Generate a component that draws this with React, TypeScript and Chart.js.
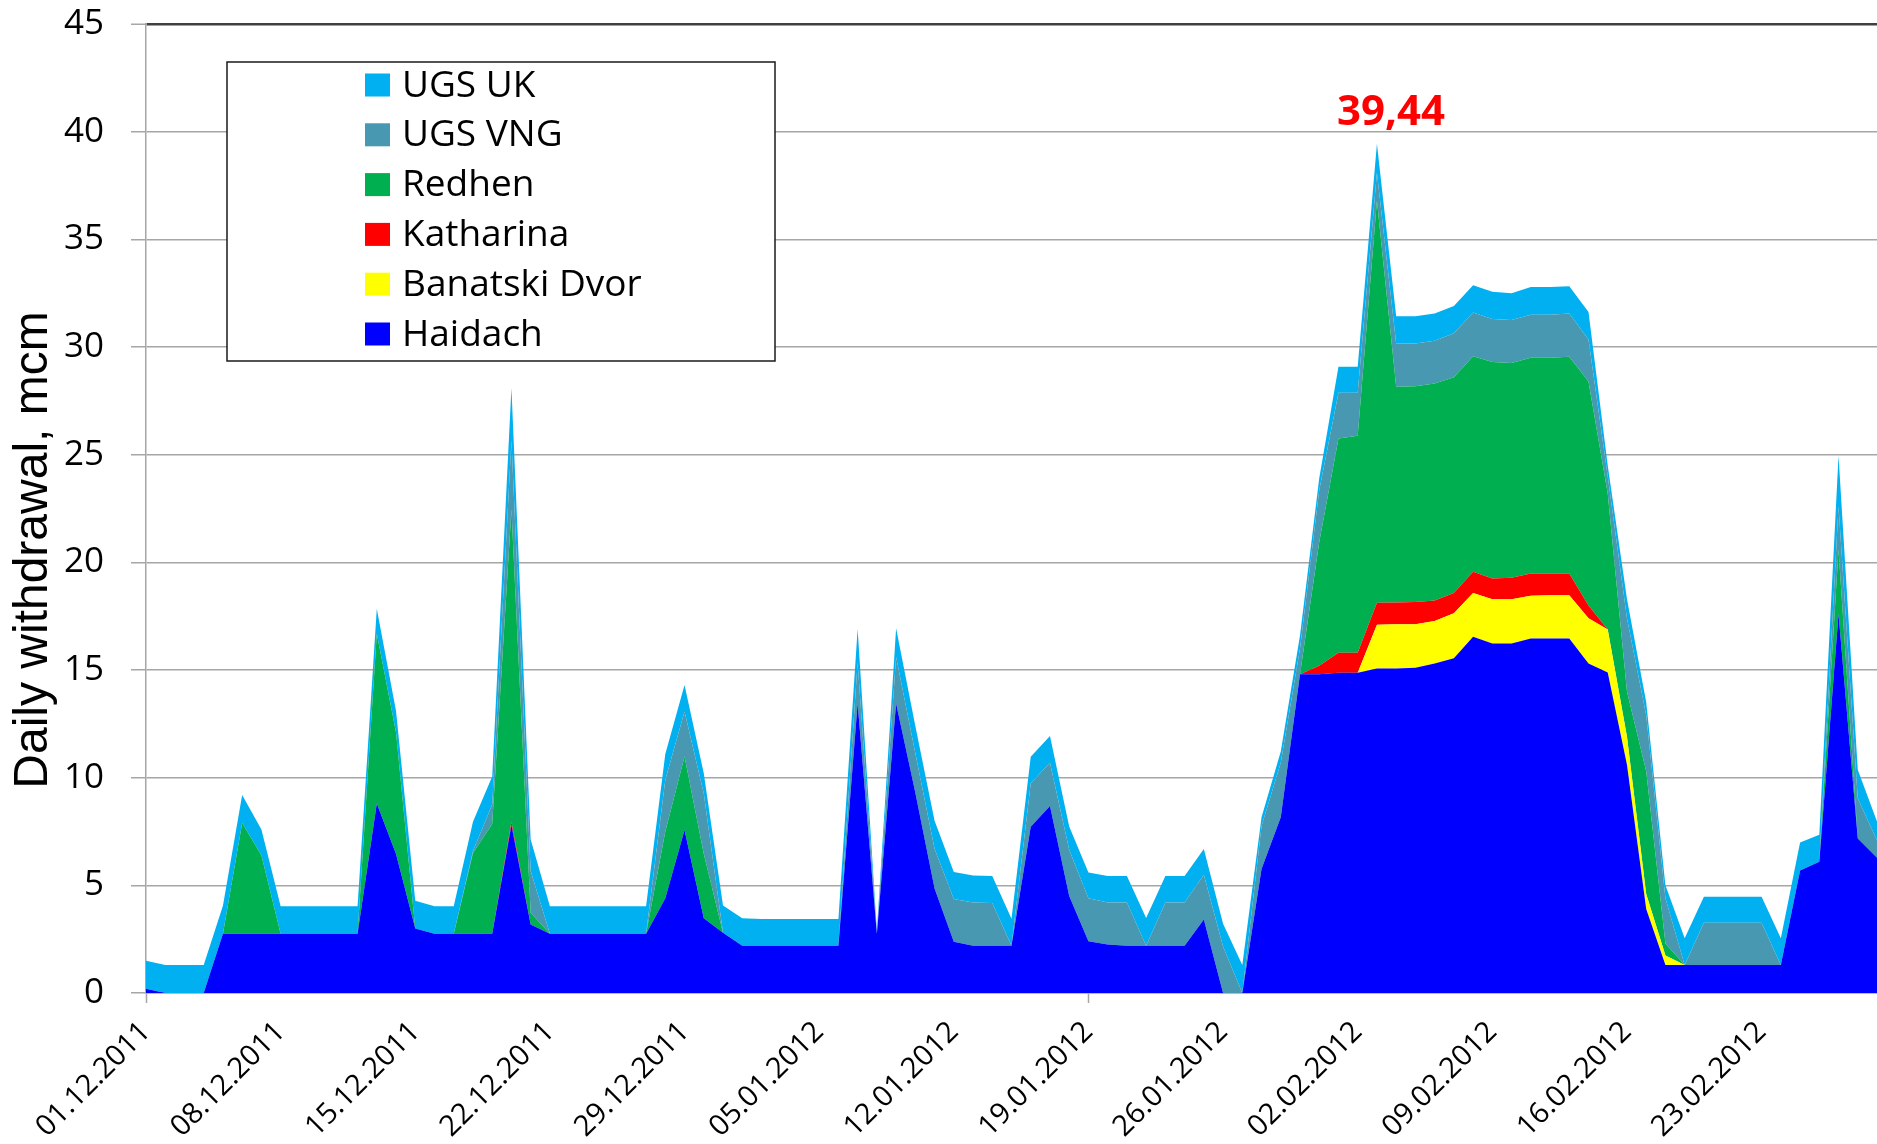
import React, { useEffect, useRef } from 'react';
import { Chart, registerables } from 'chart.js';

Chart.register(...registerables);

const DATES = [
  '01.12.2011','02.12.2011','03.12.2011','04.12.2011','05.12.2011','06.12.2011','07.12.2011','08.12.2011','09.12.2011','10.12.2011',
  '11.12.2011','12.12.2011','13.12.2011','14.12.2011','15.12.2011','16.12.2011','17.12.2011','18.12.2011','19.12.2011','20.12.2011',
  '21.12.2011','22.12.2011','23.12.2011','24.12.2011','25.12.2011','26.12.2011','27.12.2011','28.12.2011','29.12.2011','30.12.2011',
  '31.12.2011','01.01.2012','02.01.2012','03.01.2012','04.01.2012','05.01.2012','06.01.2012','07.01.2012','08.01.2012','09.01.2012',
  '10.01.2012','11.01.2012','12.01.2012','13.01.2012','14.01.2012','15.01.2012','16.01.2012','17.01.2012','18.01.2012','19.01.2012',
  '20.01.2012','21.01.2012','22.01.2012','23.01.2012','24.01.2012','25.01.2012','26.01.2012','27.01.2012','28.01.2012','29.01.2012',
  '30.01.2012','31.01.2012','01.02.2012','02.02.2012','03.02.2012','04.02.2012','05.02.2012','06.02.2012','07.02.2012','08.02.2012',
  '09.02.2012','10.02.2012','11.02.2012','12.02.2012','13.02.2012','14.02.2012','15.02.2012','16.02.2012','17.02.2012','18.02.2012',
  '19.02.2012','20.02.2012','21.02.2012','22.02.2012','23.02.2012','24.02.2012','25.02.2012','26.02.2012','27.02.2012','28.02.2012',
  '29.02.2012',
];

const TICK_LABELS = [
  '01.12.2011','08.12.2011','15.12.2011','22.12.2011','29.12.2011','05.01.2012','12.01.2012',
  '19.01.2012','26.01.2012','02.02.2012','09.02.2012','16.02.2012','23.02.2012',
];

const Y_TICKS = [0, 5, 10, 15, 20, 25, 30, 35, 40, 45];

const HAIDACH = [
  0.2, 0, 0, 0, 2.75, 2.75, 2.75, 2.75, 2.75, 2.75,
  2.75, 2.75, 8.8, 6.45, 3.0, 2.75, 2.75, 2.75, 2.75, 7.8,
  3.18, 2.75, 2.75, 2.75, 2.75, 2.75, 2.75, 4.4, 7.57, 3.47,
  2.8, 2.2, 2.2, 2.2, 2.2, 2.2, 2.2, 13.45, 2.75, 13.45,
  9.3, 4.85, 2.38, 2.2, 2.2, 2.2, 7.72, 8.69, 4.5, 2.4,
  2.25, 2.2, 2.2, 2.2, 2.2, 3.41, 0, 0, 5.76, 8.16,
  14.8, 14.8, 14.87, 14.87, 15.07, 15.07, 15.1, 15.3, 15.54, 16.54,
  16.23, 16.23, 16.46, 16.46, 16.46, 15.3, 14.88, 10.6, 3.9, 1.3,
  1.3, 1.3, 1.3, 1.3, 1.3, 1.3, 5.69, 6.1, 17.6, 7.17,
  6.28,
];

const BANATSKI_DVOR = [
  0, 0, 0, 0, 0, 0, 0, 0, 0, 0,
  0, 0, 0, 0, 0, 0, 0, 0, 0, 0,
  0, 0, 0, 0, 0, 0, 0, 0, 0, 0,
  0, 0, 0, 0, 0, 0, 0, 0, 0, 0,
  0, 0, 0, 0, 0, 0, 0, 0, 0, 0,
  0, 0, 0, 0, 0, 0, 0, 0, 0, 0,
  0, 0, 0, 0, 2.03, 2.05, 2.02, 1.98, 2.09, 2.04,
  2.06, 2.05, 1.99, 2.01, 2.01, 2.1, 2.0, 1.3, 0.7, 0.44,
  0, 0, 0, 0, 0, 0, 0, 0, 0, 0,
  0,
];

const KATHARINA = [
  0, 0, 0, 0, 0, 0, 0, 0, 0, 0,
  0, 0, 0, 0, 0, 0, 0, 0, 0, 0.15,
  0, 0, 0, 0, 0, 0, 0, 0, 0, 0,
  0, 0, 0, 0, 0, 0, 0, 0, 0, 0,
  0, 0, 0, 0, 0, 0, 0, 0, 0, 0,
  0, 0, 0, 0, 0, 0, 0, 0, 0, 0,
  0, 0.4, 0.93, 0.93, 1.02, 1.01, 1.04, 0.95, 0.95, 0.98,
  0.96, 1.0, 1.03, 1.01, 1.01, 0.6, 0, 0, 0, 0,
  0, 0, 0, 0, 0, 0, 0, 0, 0, 0,
  0,
];

const REDHEN = [
  0, 0, 0, 0, 0, 5.15, 3.65, 0, 0, 0,
  0, 0, 7.9, 5.65, 0, 0, 0, 3.75, 5.1, 14.5,
  0.55, 0, 0, 0, 0, 0, 0, 3.1, 3.41, 3.0,
  0, 0, 0, 0, 0, 0, 0, 0, 0, 0,
  0, 0, 0, 0, 0, 0, 0, 0, 0, 0,
  0, 0, 0, 0, 0, 0, 0, 0, 0, 0,
  0, 5.75, 9.95, 10.08, 18.68, 10.02, 10.02, 10.07, 10.02, 10.01,
  10.05, 9.98, 10.02, 10.02, 10.07, 10.4, 6.32, 2.1, 5.7, 0.56,
  0, 0, 0, 0, 0, 0, 0, 0, 3.0, 0,
  0,
];

const UGS_VNG = [
  0, 0, 0, 0, 0, 0, 0, 0, 0, 0,
  0, 0, 0, 0, 0, 0, 0, 0.1, 0.9, 3.2,
  1.93, 0, 0, 0, 0, 0, 0, 2.4, 2.09, 2.8,
  0, 0, 0, 0, 0, 0, 0, 1.9, 0, 2.15,
  1.83, 1.85, 1.98, 2.0, 1.98, 0, 2.02, 2.0, 2.15, 2.0,
  1.95, 2.0, 0, 2.0, 2.0, 2.08, 2.16, 0, 2.0, 2.53,
  1.2, 2.4, 2.13, 2.0, 1.3, 2.01, 1.98, 1.99, 2.04, 2.03,
  2.0, 1.99, 2.0, 2.0, 2.0, 1.95, 0.8, 3.4, 2.6, 2.1,
  0, 1.96, 1.96, 1.96, 1.96, 0, 0, 0, 2.0, 1.87,
  0.8,
];

const UGS_UK = [
  1.3, 1.3, 1.3, 1.3, 1.3, 1.29, 1.19, 1.28, 1.28, 1.28,
  1.28, 1.28, 1.15, 1.0, 1.28, 1.28, 1.28, 1.35, 1.3, 2.45,
  1.47, 1.28, 1.28, 1.28, 1.28, 1.28, 1.28, 1.2, 1.23, 0.93,
  1.26, 1.27, 1.24, 1.24, 1.24, 1.24, 1.24, 1.55, 0.15, 1.34,
  1.27, 1.3, 1.26, 1.26, 1.25, 1.25, 1.23, 1.25, 1.08, 1.2,
  1.23, 1.23, 1.28, 1.23, 1.23, 1.2, 1.06, 1.3, 0.4, 0.53,
  0.6, 0.55, 1.2, 1.2, 1.34, 1.27, 1.27, 1.26, 1.26, 1.27,
  1.26, 1.25, 1.29, 1.29, 1.27, 1.28, 0.5, 0.9, 0.6, 0.6,
  1.24, 1.21, 1.21, 1.21, 1.21, 1.24, 1.3, 1.25, 2.35, 1.33,
  0.89,
];

// bottom to top stacking order
const SERIES_NAMES = ['Haidach', 'Banatski Dvor', 'Katharina', 'Redhen', 'UGS VNG', 'UGS UK'];
const SERIES_VALUES = [HAIDACH, BANATSKI_DVOR, KATHARINA, REDHEN, UGS_VNG, UGS_UK];
const SERIES_COLORS = ['#0000FF', '#FFFF00', '#FF0000', '#00B050', '#4798B0', '#00B0F0'];

const Y_TITLE = 'Daily withdrawal, mcm';

const GRID = '#A6A6A6';
const X_TICK_FONT = { family: '"Open Sans", "Liberation Sans", sans-serif', size: 29 };
const Y_TICK_FONT = { family: '"Open Sans", "Liberation Sans", sans-serif', size: 35 };

const overlayPlugin = {
  id: 'overlay',
  afterDraw(chart: any) {
    const { ctx } = chart;
    const xs = chart.scales.x;
    const ys = chart.scales.y;

    // Y axis title
    ctx.save();
    ctx.translate(47, 550);
    ctx.rotate(-Math.PI / 2);
    ctx.font = '48px "Liberation Sans", Arial, sans-serif';
    ctx.fillStyle = '#000';
    ctx.textAlign = 'center';
    ctx.textBaseline = 'alphabetic';
    ctx.fillText(Y_TITLE, 0, 0);
    ctx.restore();

    // Peak label
    const totals = DATES.map((_, i) => SERIES_VALUES.reduce((s, arr) => s + arr[i], 0));
    let peak = 0;
    totals.forEach((t, i) => { if (t > totals[peak]) peak = i; });
    const px = xs.getPixelForValue(peak);
    const py = ys.getPixelForValue(totals[peak]);
    ctx.save();
    ctx.font = 'bold 42px "Open Sans", "Liberation Sans", sans-serif';
    ctx.fillStyle = '#FF0000';
    ctx.textAlign = 'center';
    ctx.textBaseline = 'middle';
    ctx.fillText(totals[peak].toFixed(2).replace('.', ','), px + 14, py - 31);
    ctx.restore();

    // Legend box
    ctx.save();
    const bx = 227, by = 62, bw = 548, bh = 299;
    ctx.fillStyle = '#FFFFFF';
    ctx.fillRect(bx, by, bw, bh);
    ctx.strokeStyle = '#1A1A1A';
    ctx.lineWidth = 1.5;
    ctx.strokeRect(bx, by, bw, bh);
    ctx.font = '37px "Open Sans", "Liberation Sans", sans-serif';
    ctx.textAlign = 'left';
    ctx.textBaseline = 'middle';
    const order = [5, 4, 3, 2, 1, 0];
    order.forEach((si, row) => {
      const cy = 85 + row * 49.8;
      ctx.fillStyle = SERIES_COLORS[si];
      ctx.fillRect(365, cy - 11.5, 25, 23);
      ctx.fillStyle = '#000';
      ctx.fillText(SERIES_NAMES[si], 402, cy + 1);
    });
    ctx.restore();
  },
};

export default function App() {
  const ref = useRef<HTMLCanvasElement | null>(null);

  useEffect(() => {
    if (!ref.current) return;
    const datasets = SERIES_VALUES.map((vals, i) => ({
      label: SERIES_NAMES[i],
      data: vals,
      backgroundColor: SERIES_COLORS[i],
      borderColor: 'rgba(0,0,0,0)',
      borderWidth: 1,
      pointRadius: 0,
      tension: 0,
      fill: i === 0 ? 'origin' : '-1',
    }));

    const chart = new Chart(ref.current, {
      type: 'line',
      data: { labels: DATES, datasets },
      plugins: [overlayPlugin],
      options: {
        responsive: false,
        animation: false,
        devicePixelRatio: 1,
        layout: { padding: { top: 24, left: 0, right: 0, bottom: 0 } },
        plugins: {
          legend: { display: false },
          tooltip: { enabled: false },
          title: { display: false },
        },
        scales: {
          x: {
            type: 'category',
            offset: false,
            grid: {
              display: true,
              drawOnChartArea: false,
              tickLength: 10,
              tickWidth: 1.5,
              tickColor: (c: any) => (TICK_LABELS.includes(DATES[c.index]) ? GRID : 'rgba(0,0,0,0)'),
            },
            border: { color: GRID, width: 1.5 },
            ticks: {
              autoSkip: false,
              minRotation: 45,
              maxRotation: 45,
              padding: 12,
              color: '#000',
              font: X_TICK_FONT,
              callback: (_v: any, i: number) => (TICK_LABELS.includes(DATES[i]) ? DATES[i] : null),
            },
            afterFit: (scale: any) => {
              scale.paddingLeft = 0;
              scale.paddingRight = 0;
              scale.height = 151;
            },
          },
          y: {
            stacked: true,
            min: Y_TICKS[0],
            max: Y_TICKS[Y_TICKS.length - 1],
            ticks: { stepSize: 5, padding: 27, color: '#000', font: Y_TICK_FONT },
            grid: {
              color: (c: any) => (c.tick && c.tick.value === 45 ? '#404040' : GRID),
              lineWidth: (c: any) => (c.tick && c.tick.value === 45 ? 2.5 : 1.5),
              tickLength: 15,
              tickColor: GRID,
              tickWidth: 1.5,
            },
            border: { color: GRID, width: 1.5 },
            afterFit: (scale: any) => {
              scale.width = 146;
              scale.paddingTop = 0;
              scale.paddingBottom = 0;
            },
          },
        },
      } as any,
    });
    return () => chart.destroy();
  }, []);

  return (
    <div style={{ position: 'fixed', left: 0, top: 0, width: 1877, height: 1144, background: '#fff' }}>
      <canvas ref={ref} width={1877} height={1144} style={{ display: 'block' }} />
    </div>
  );
}
